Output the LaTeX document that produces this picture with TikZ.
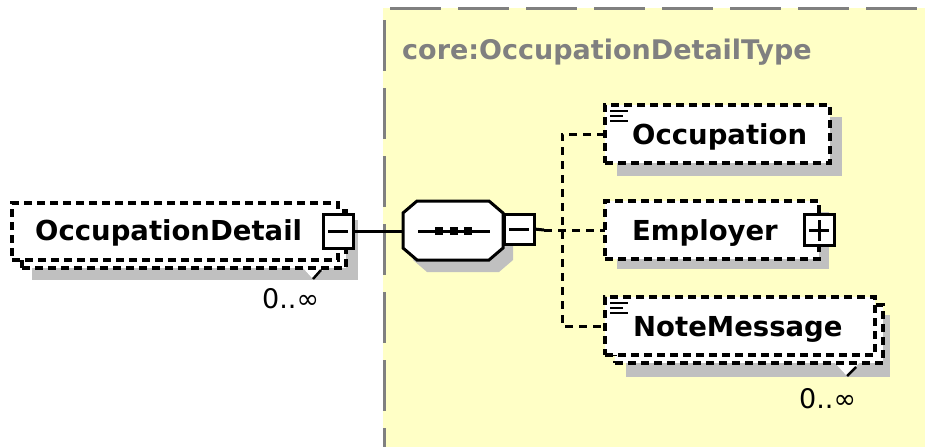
\documentclass[tikz,border=0pt]{standalone}
\usepackage{fontspec}
\newfontfamily\dvs{DejaVu Sans}
\definecolor{yellowbg}{RGB}{255,255,198}
\definecolor{shadowgray}{RGB}{192,192,192}
\definecolor{bordergray}{RGB}{128,128,128}
\tikzset{
  ebox/.style={draw, rectangle, dash pattern=on 8pt off 5pt, line width=3.2pt, fill=white, inner sep=0pt, outer sep=0pt},
  shadowfill/.style={fill=shadowgray, draw=none},
  pmbox/.style={draw, rectangle, line width=3pt, fill=white, minimum width=30pt, minimum height=31pt, inner sep=0pt, outer sep=0pt},
  lbl/.style={font=\dvs\bfseries\fontsize{27.5pt}{30pt}\selectfont, inner sep=0pt, anchor=base west},
  ttl/.style={font=\dvs\bfseries\fontsize{27pt}{30pt}\selectfont, text=bordergray, inner sep=0pt, anchor=base west},
  card/.style={font=\dvs\fontsize{27pt}{28pt}\selectfont, inner sep=0pt, anchor=base west},
  conn/.style={draw, line width=3pt},
  dconn/.style={draw, line width=3pt, dash pattern=on 8pt off 6pt},
  bord/.style={draw=bordergray, line width=3pt, dash pattern=on 51pt off 17pt},
  iconline/.style={draw, line width=2.5pt},
  glyph/.style={draw, line width=3pt}
}
\begin{document}
\begin{tikzpicture}[x=1pt,y=-1pt]
\useasboundingbox (0,0) rectangle (925,447);
% yellow type area
\fill[yellowbg] (383,8) rectangle (925,447);
\draw[bord] (390,8) -- (925,8);
\draw[bord] (384,20) -- (384,447);
\node[ttl] (title) at (402,59) {core:OccupationDetailType};

% OccupationDetail (repeated element)
\fill[shadowfill] (32,220) rectangle (358,280);
\fill[white] (303,268) -- (325,268) -- (313,279) -- cycle;
\draw[line width=2.5pt] (313,279) -- (321,270);
\node[ebox, minimum width=324pt, minimum height=57pt] (odb) at (184,239.5) {};
\node[ebox, minimum width=326pt, minimum height=57pt] (od) at (175,231.5) {};
\node[lbl] (odt) at (35,240) {OccupationDetail};
\node[pmbox, minimum height=34pt] (odm) at (od.east) {};
\draw[glyph] ([xshift=5pt]odm.west) -- ([xshift=-5pt]odm.east);
\node[card] (odc) at (262,308) {0..\char"221E};

% sequence compositor
\node[minimum width=100pt, minimum height=59pt, inner sep=0pt, outer sep=0pt] (seq) at (453,230.5) {};
\fill[shadowfill, shift={(10,12)}] (417,201) -- (489,201) -- (503,213) -- (503,248) -- (489,260) -- (417,260) -- (403,248) -- (403,213) -- cycle;
\draw[line width=3pt, fill=white] (417,201) -- (489,201) -- (503,213) -- (503,248) -- (489,260) -- (417,260) -- (403,248) -- (403,213) -- cycle;
\draw[line width=3pt] (418,231) -- (490,231);
\fill (435,227) rectangle (443,235);
\fill (450,227) rectangle (458,235);
\fill (464,227) rectangle (472,235);
\node[pmbox, minimum height=30pt] (seqm) at (519,229) {};
\draw[glyph] ([xshift=5pt]seqm.west) -- ([xshift=-5pt]seqm.east);

\draw[conn] (odm.east) -- (odm.east -| seq.west);

% children
\fill[shadowfill] (617,117) rectangle (842,176);
\node[ebox, minimum width=225pt, minimum height=58pt] (occ) at (717.5,134) {};
\node[lbl] (occt) at (632,144) {Occupation};
\draw[iconline] (610,111) -- (628,111);
\draw[iconline] (610,116) -- (623,116);
\draw[iconline] (610,121) -- (628,121);

\fill[shadowfill] (617,212) rectangle (829,269);
\node[ebox, minimum width=214pt, minimum height=58pt] (emp) at (712,230) {};
\node[lbl] (empt) at (632,240) {Employer};
\node[pmbox] (empp) at (emp.east) {};
\draw[glyph] ([xshift=5pt]empp.west) -- ([xshift=-5pt]empp.east);
\draw[glyph] ([yshift=5pt]empp.south) -- ([yshift=-5pt]empp.north);

\fill[shadowfill] (626,315) rectangle (890,377);
\fill[white] (835,363) -- (859,363) -- (847,376) -- cycle;
\draw[line width=2.5pt] (847,376) -- (856,367);
\node[ebox, minimum width=268pt, minimum height=58pt] (noteb) at (749,334) {};
\node[ebox, minimum width=270pt, minimum height=58pt] (note) at (740,326) {};
\node[lbl] (notet) at (633,336) {NoteMessage};
\draw[iconline] (610,303) -- (628,303);
\draw[iconline] (610,308) -- (623,308);
\draw[iconline] (610,313) -- (628,313);
\node[card] (notec) at (799,408) {0..\char"221E};

% connectors
\coordinate (js) at (544,230);
\coordinate (jx) at (562,230);
\draw[conn] (seqm.east) -- (js);
\draw[dconn] (js) -- (emp.west);
\draw[dconn] (occ.west) -| (jx) |- (note.west);
\end{tikzpicture}
\end{document}
